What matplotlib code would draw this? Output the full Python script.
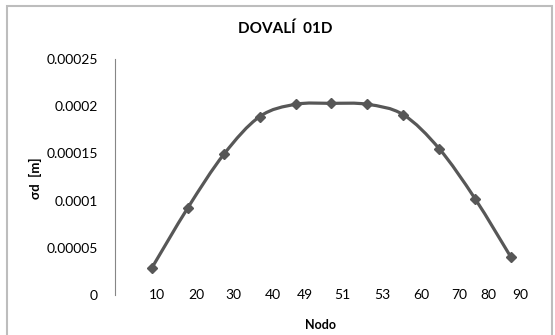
import matplotlib
matplotlib.use("Agg")
import matplotlib.pyplot as plt
from matplotlib.path import Path
from matplotlib.patches import PathPatch, Rectangle
import numpy as np

# data
nodes = ["10", "20", "30", "40", "49", "51", "53", "60", "70", "80", "90"]
sigma_d = [0.000029, 0.0000925, 0.000149, 0.000189, 0.000202, 0.000203,
           0.000202, 0.000191, 0.000155, 0.000102, 0.000040]

# where the category labels sit (they drift from the points in the original)
label_pos = [0.14, 1.23, 2.26, 3.37, 4.26, 5.29, 6.41, 7.49, 8.55, 9.36, 10.25]

plt.rcParams["font.family"] = ["Lato", "DejaVu Sans"]

fig = plt.figure(figsize=(5.55, 3.35), dpi=100)
ax = fig.add_axes([114.7 / 555, 40 / 335, (532.5 - 114.7) / 555, 236 / 335])

x = np.arange(len(sigma_d))
y = np.array(sigma_d)
line_col = "#575757"

# smoothed line (Excel style, Catmull-Rom as cubic beziers)
verts = [(x[0], y[0])]
codes = [Path.MOVETO]
for i in range(len(x) - 1):
    p0 = (x[max(i - 1, 0)], y[max(i - 1, 0)])
    p1 = (x[i], y[i])
    p2 = (x[i + 1], y[i + 1])
    p3 = (x[min(i + 2, len(x) - 1)], y[min(i + 2, len(x) - 1)])
    c1 = (p1[0] + (p2[0] - p0[0]) / 6, p1[1] + (p2[1] - p0[1]) / 6)
    c2 = (p2[0] - (p3[0] - p1[0]) / 6, p2[1] - (p3[1] - p1[1]) / 6)
    verts += [c1, c2, p2]
    codes += [Path.CURVE4] * 3
ax.add_patch(PathPatch(Path(verts, codes), fill=False, edgecolor=line_col,
                       lw=2.3, capstyle="round", joinstyle="round"))
ax.plot(x, y, ls="none", marker="D", ms=5.5, color=line_col)

ax.set_xlim(-1.04, 10.6)
ax.set_ylim(0, 0.00025)
ax.set_yticks([0, 0.00005, 0.0001, 0.00015, 0.0002, 0.00025])
ax.set_yticklabels(["0", "0.00005", "0.0001", "0.00015", "0.0002", "0.00025"])
ax.set_xticks(label_pos)
ax.set_xticklabels(nodes)
ax.tick_params(axis="y", length=0, pad=12, labelsize=10)
ax.tick_params(axis="x", length=0, pad=0, labelsize=10)
for lbl in ax.get_xticklabels():
    lbl.set_va("center")

for s in ["top", "right", "bottom"]:
    ax.spines[s].set_visible(False)
ax.spines["left"].set_color("#868686")
ax.spines["left"].set_linewidth(0.8)
ax.patch.set_visible(False)

fig.text(285 / 555, 1 - 29 / 335, "DOVALÍ  01D", ha="center", va="center",
         fontsize=11, fontweight="bold")
fig.text(35 / 555, 1 - 178 / 335, "σd  [m]", ha="center", va="center",
         rotation=90, fontsize=9.5, fontweight="bold")
fig.text(320 / 555, 1 - 325 / 335, "Nodo", ha="center", va="center",
         fontsize=9, fontweight="bold")

# chart area border
fig.patches.append(Rectangle((7 / 555, -0.05), (552 - 7) / 555, 1.05 - 6 / 335,
                             transform=fig.transFigure, fill=False,
                             edgecolor="#bdbdbd", lw=1.5))

fig.savefig("out.png", dpi=100)
